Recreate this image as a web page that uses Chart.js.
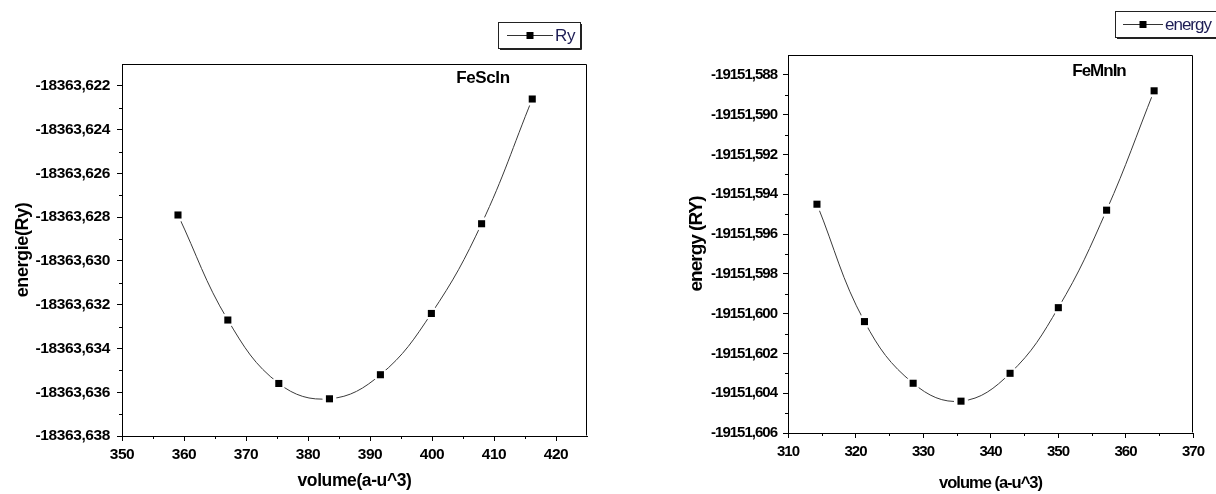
<!DOCTYPE html>
<html><head><meta charset="utf-8">
<script src="https://cdn.jsdelivr.net/npm/chart.js@4.4.0/dist/chart.umd.min.js"></script>
<style>
html,body{margin:0;padding:0;background:#fff;}
#wrap{position:relative;width:1216px;height:494px;overflow:hidden;background:#fff;}
canvas{position:absolute;top:0;}
</style></head><body>
<div id="wrap">
<canvas id="c1" width="608" height="494" style="left:0"></canvas>
<canvas id="c2" width="608" height="494" style="left:608px"></canvas>
</div>
<script>
// ---------- data ----------
const volumeFeScIn = [359.03, 367.07, 375.29, 383.46, 391.68, 399.90, 408.00, 416.17];
const energyFeScIn = [-18363.6279, -18363.6327, -18363.6356, -18363.6363, -18363.6352, -18363.6324, -18363.6283, -18363.6226];
const volumeFeMnIn = [314.29, 321.33, 328.54, 335.63, 342.90, 350.05, 357.20, 364.24];
const energyFeMnIn = [-19151.5945, -19151.6004, -19151.6035, -19151.6044, -19151.6030, -19151.5997, -19151.5948, -19151.5888];
const xTicksFeScIn = [350, 360, 370, 380, 390, 400, 410, 420];
const yTicksFeScIn = [-18363.638, -18363.636, -18363.634, -18363.632, -18363.630, -18363.628, -18363.626, -18363.624, -18363.622];
const xTicksFeMnIn = [310, 320, 330, 340, 350, 360, 370];
const yTicksFeMnIn = [-19151.606, -19151.604, -19151.602, -19151.600, -19151.598, -19151.596, -19151.594, -19151.592, -19151.590, -19151.588];
const legendFeScIn = 'Ry';
const legendFeMnIn = 'energy';

const fmt = v => v.toFixed(3).replace('.', ',');

function makeChart(id, o) {
  const pts = o.xs.map((x, i) => ({x: x, y: o.ys[i]}));
  const setLS = chart => { if ('letterSpacing' in chart.ctx) chart.ctx.letterSpacing = o.ls; };
  const deco = {
    id: 'deco' + id,
    beforeInit: setLS,
    beforeUpdate: setLS,
    beforeLayout: setLS,
    beforeDraw: setLS,
    afterDraw(chart) {
      const {ctx, chartArea: a, scales: {x, y}} = chart;
      ctx.save();
      ctx.strokeStyle = '#000';
      ctx.lineWidth = 1;
      // frame
      const L = Math.round(a.left) + 0.5, R = Math.round(a.right) - 0.5;
      const T = Math.round(a.top) + 0.5, B = Math.round(a.bottom) - 0.5;
      ctx.beginPath();
      ctx.moveTo(L, T); ctx.lineTo(R, T); ctx.lineTo(R, B);
      ctx.stroke();
      // minor ticks
      ctx.beginPath();
      const xs = o.xTicks, ys = o.yTicks;
      const xstep = xs[1] - xs[0], ystep = ys[1] - ys[0];
      for (let i = 0; i < xs.length; i++) {
        const v = xs[i] + xstep / 2;
        if (v < o.xMax) {
          const p = Math.round(x.getPixelForValue(v)) + 0.5;
          ctx.moveTo(p, a.bottom); ctx.lineTo(p, a.bottom + 3);
        }
      }
      for (let i = 0; i < ys.length; i++) {
        const v = ys[i] + ystep / 2;
        if (v < o.yMax) {
          const p = Math.round(y.getPixelForValue(v)) + 0.5;
          ctx.moveTo(a.left, p); ctx.lineTo(a.left - 3, p);
        }
      }
      ctx.stroke();
      // annotation label
      ctx.fillStyle = '#000';
      ctx.font = o.annFont;
      ctx.textAlign = 'center';
      ctx.textBaseline = 'middle';
      ctx.fillText(o.ann, a.right - o.annDx, a.top + o.annDy);
      // legend
      const lg = o.legend;
      ctx.lineWidth = 1;
      ctx.strokeStyle = '#222';
      ctx.strokeRect(lg.x + 0.5, lg.y + 0.5, lg.w, lg.h);
      ctx.beginPath();
      ctx.moveTo(lg.x + lg.w + 1.5, lg.y + 2); ctx.lineTo(lg.x + lg.w + 1.5, lg.y + lg.h + 1.5); ctx.lineTo(lg.x + 2, lg.y + lg.h + 1.5);
      ctx.stroke();
      const cy = lg.y + lg.h / 2 + 0.5;
      ctx.strokeStyle = '#333';
      ctx.beginPath();
      ctx.moveTo(lg.x + lg.l0, cy); ctx.lineTo(lg.x + lg.l1, cy);
      ctx.stroke();
      ctx.fillStyle = '#000';
      const mx = lg.x + (lg.l0 + lg.l1) / 2;
      ctx.fillRect(mx - 3.5, cy - 3.5, 7, 7);
      ctx.fillStyle = '#1d1d55';
      ctx.font = lg.font;
      ctx.textAlign = 'left';
      ctx.textBaseline = 'middle';
      ctx.fillText(lg.text, lg.x + lg.tx, cy + 1);
      ctx.restore();
    }
  };
  return new Chart(document.getElementById(id), {
    type: 'scatter',
    data: {
      datasets: [
        {data: pts, showLine: true, borderColor: '#3a3a3a', borderWidth: 1, tension: 0.4, pointRadius: 0, order: 3},
        {data: pts, showLine: false, pointStyle: 'circle', pointRadius: 7, pointBackgroundColor: '#fff', pointBorderWidth: 0, order: 2},
        {data: pts, showLine: false, pointStyle: 'rect', pointRadius: 5, pointBackgroundColor: '#000', pointBorderColor: '#000', pointBorderWidth: 0, order: 1}
      ]
    },
    options: {
      responsive: false,
      animation: false,
      events: [],
      layout: {padding: {left: 0, top: o.padTop, right: o.padRight, bottom: 0}},
      plugins: {legend: {display: false}, tooltip: {enabled: false}},
      scales: {
        x: {
          type: 'linear', min: o.xMin, max: o.xMax,
          afterBuildTicks: s => { s.ticks = o.xTicks.map(v => ({value: v})); },
          afterFit: s => { s.height = o.xAxisH; },
          grid: {drawOnChartArea: false, drawTicks: true, tickLength: 5, tickColor: '#000', color: '#000'},
          border: {display: true, color: '#000', width: 1},
          ticks: {color: '#000', font: o.tickFont, padding: o.xTickPad, maxRotation: 0, autoSkip: false, callback: v => String(v)},
          title: {display: true, text: o.xTitle, color: '#000', font: o.xTitleFont, padding: {top: 0, bottom: o.xTitlePadB}}
        },
        y: {
          type: 'linear', min: o.yMin, max: o.yMax,
          afterBuildTicks: s => { s.ticks = o.yTicks.map(v => ({value: v})); },
          afterFit: s => { s.width = o.yAxisW; },
          grid: {drawOnChartArea: false, drawTicks: true, tickLength: 5, tickColor: '#000', color: '#000'},
          border: {display: true, color: '#000', width: 1},
          ticks: {color: '#000', font: o.tickFont, padding: o.yTickPad, autoSkip: false, callback: v => fmt(v)},
          title: {display: true, text: o.yTitle, color: '#000', font: o.yTitleFont, padding: {top: o.yTitlePadT, bottom: 0}}
        }
      }
    },
    plugins: [deco]
  });
}

const FONT = "'Liberation Sans', Arial, sans-serif";

makeChart('c1', {
  xs: volumeFeScIn, ys: energyFeScIn,
  xMin: 350, xMax: 425, yMin: -18363.638, yMax: -18363.621,
  xTicks: xTicksFeScIn, yTicks: yTicksFeScIn,
  padTop: 64, padRight: 21, xAxisH: 58, yAxisW: 122, ls: '-0.4px',
  tickFont: {family: FONT, size: 15.5, weight: 'bold'},
  xTickPad: 4, yTickPad: 7,
  xTitle: 'volume(a-u^3)', xTitleFont: {family: FONT, size: 17.5, weight: 'bold'}, xTitlePadB: 2,
  yTitle: 'energie(Ry)', yTitleFont: {family: FONT, size: 18, weight: 'bold'}, yTitlePadT: 12,
  ann: 'FeScIn', annFont: "bold 17px " + FONT, annDx: 104, annDy: 14,
  legend: {x: 498, y: 22, w: 82, h: 26, l0: 9, l1: 55, tx: 57, text: legendFeScIn, font: "17px " + FONT}
});

makeChart('c2', {
  xs: volumeFeMnIn, ys: energyFeMnIn,
  xMin: 310, xMax: 370, yMin: -19151.606, yMax: -19151.587,
  xTicks: xTicksFeMnIn, yTicks: yTicksFeMnIn,
  padTop: 55, padRight: 23, xAxisH: 61, yAxisW: 180, ls: '-1px',
  tickFont: {family: FONT, size: 15, weight: 'bold'},
  xTickPad: 5, yTickPad: 6,
  xTitle: 'volume (a-u^3)', xTitleFont: {family: FONT, size: 16.5, weight: 'bold'}, xTitlePadB: 1,
  yTitle: 'energy (RY)', yTitleFont: {family: FONT, size: 19, weight: 'bold'}, yTitlePadT: 77,
  ann: 'FeMnIn', annFont: "bold 17px " + FONT, annDx: 94, annDy: 16,
  legend: {x: 507, y: 11, w: 110, h: 26, l0: 8, l1: 48, tx: 50, text: legendFeMnIn, font: "17px " + FONT}
});
</script>
</body></html>
